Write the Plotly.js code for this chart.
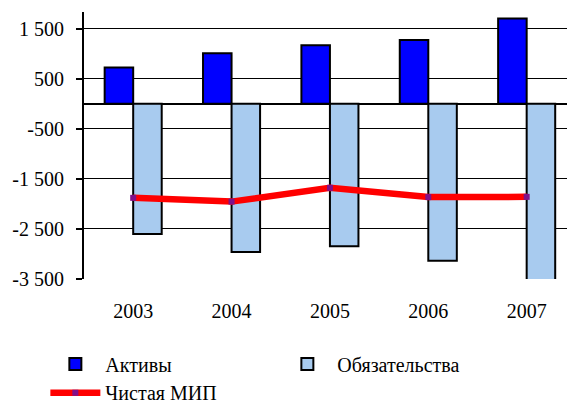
<!DOCTYPE html>
<html>
<head>
<meta charset="utf-8">
<script src="https://cdn.plot.ly/plotly-3.0.1.min.js"></script>
<style>html,body{margin:0;padding:0;background:#fff;}#chart{width:567px;height:409px;}</style>
</head>
<body>
<div id="chart"></div>
<script>
const years = ['2003', '2004', '2005', '2006', '2007'];
const assets = [720, 1005, 1165, 1270, 1700];
const liabilities = [-2600, -2960, -2845, -3135, -3560];
const netPosition = [-1880, -1955, -1680, -1865, -1860];
const yTickVals = [1500, 500, -500, -1500, -2500, -3500];
const yTickText = ['1 500', '500', '-500', '-1 500', '-2 500', '-3 500'];

const serif = "'Liberation Serif', 'Times New Roman', Times, serif";

const traces = [
  {
    type: 'bar', name: 'Активы', x: years, y: assets, legend: 'legend',
    marker: {color: '#0000FF', line: {color: '#000000', width: 2}}
  },
  {
    type: 'bar', name: 'Обязательства', x: years, y: liabilities, legend: 'legend',
    marker: {color: '#A8CBEF', line: {color: '#000000', width: 2}}
  },
  {
    type: 'scatter', mode: 'lines+markers', name: 'Чистая МИП', x: years, y: netPosition, legend: 'legend2',
    line: {color: '#FF0000', width: 6.5},
    marker: {symbol: 'square', color: '#80108A', size: 6, line: {width: 0}}
  }
];

const legendFont = {family: serif, size: 20, color: '#000000'};

const layout = {
  width: 567, height: 409,
  margin: {l: 84, r: 0, t: 12, b: 130},
  paper_bgcolor: '#ffffff', plot_bgcolor: '#ffffff',
  barmode: 'group', bargap: 0.42, bargroupgap: 0,
  font: {family: serif, size: 20, color: '#000000'},
  showlegend: true,
  legend: {
    orientation: 'h', xref: 'container', yref: 'container',
    x: 0.08, xanchor: 'left', y: 0.11, yanchor: 'middle',
    font: legendFont,
    entrywidth: 167, entrywidthmode: 'pixels', itemwidth: 50,
    tracegroupgap: 0, traceorder: 'normal'
  },
  legend2: {
    orientation: 'h', xref: 'container', yref: 'container',
    x: 0.08, xanchor: 'left', y: 0.04, yanchor: 'middle',
    font: legendFont, itemwidth: 50
  },
  xaxis: {
    type: 'category', range: [-0.5, 4.41],
    showline: false, showgrid: false, zeroline: false, ticks: '',
    tickfont: {family: serif, size: 20, color: '#000000'},
    ticklabelstandoff: 18, fixedrange: true
  },
  yaxis: {
    range: [-3500, 1830],
    tickvals: yTickVals, ticktext: yTickText,
    showline: true, linecolor: '#000000', linewidth: 2,
    ticks: 'outside', ticklen: 6, tickwidth: 2, tickcolor: '#000000',
    showgrid: true, gridcolor: '#000000', gridwidth: 1,
    zeroline: true, zerolinecolor: '#000000', zerolinewidth: 2,
    tickfont: {family: serif, size: 20, color: '#000000'},
    ticklabelstandoff: 8, fixedrange: true
  }
};

Plotly.newPlot('chart', traces, layout, {displayModeBar: false, staticPlot: true});
</script>
</body>
</html>
